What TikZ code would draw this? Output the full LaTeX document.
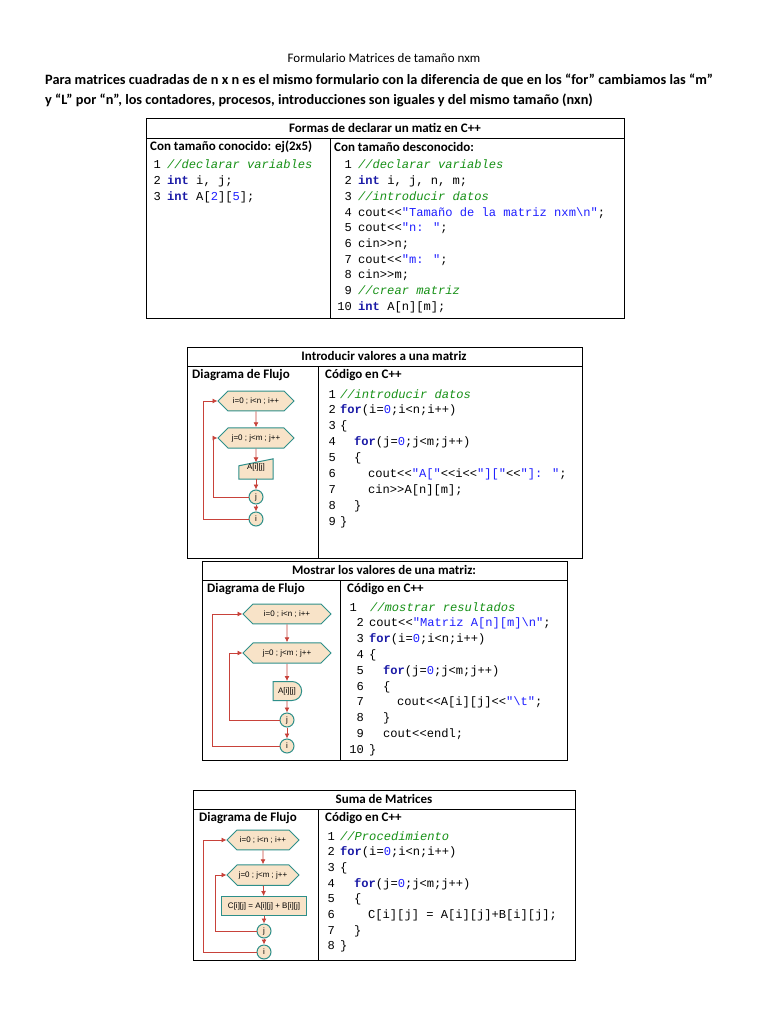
\documentclass[tikz,border=0pt]{standalone}
\usepackage{fontspec}
\setmainfont{Carlito}
\newfontfamily\codefont{Liberation Mono}
\newfontfamily\fcfont{Liberation Sans}
\usetikzlibrary{shapes.geometric,shapes.misc,arrows.meta}
\definecolor{kwc}{HTML}{1A1AA6}
\definecolor{stc}{HTML}{1F1FFF}
\definecolor{cmc}{HTML}{159015}
\definecolor{fcfill}{HTML}{F8E3C8}
\definecolor{fcline}{HTML}{2E8F8A}
\definecolor{fcred}{HTML}{C8423A}
\newcommand{\kw}[1]{\textcolor{kwc}{\bfseries #1}}
\newcommand{\sv}[1]{\textcolor{stc}{#1}}
\newcommand{\cmt}[1]{\textcolor{cmc}{\itshape #1}}
\newcommand{\bsl}{\textbackslash}
\newcommand{\cl}[4]{\node[code] (#1) at (#2,#3) {#4};}
\newcommand{\lnn}[4]{\node[lnum] (#1) at (#2,#3) {#4};}
\tikzset{
 code/.style={anchor=base west,inner sep=0pt,font=\codefont\fontsize{12.1}{12}\selectfont},
 lnum/.style={anchor=base east,inner sep=0pt,font=\codefont\fontsize{12.1}{12}\selectfont},
 hdr/.style={inner sep=0pt,font=\bfseries\fontsize{13}{14}\selectfont},
 tline/.style={draw=black,line width=0.8pt},
 fcfont/.style={font=\fcfont\fontsize{8}{9}\selectfont},
 hexa/.style={chamfered rectangle,chamfered rectangle xsep=9pt,draw=fcline,fill=fcfill,line width=1pt,fcfont,minimum height=19pt,inner xsep=2pt},
 circ/.style={circle,draw=fcline,fill=fcfill,line width=1pt,minimum size=14pt,inner sep=0pt,fcfont},
 box/.style={rectangle,draw=fcline,fill=fcfill,line width=1pt,fcfont,minimum height=19pt},
 arr/.style={draw=fcred,line width=0.8pt,-{Latex[length=5pt,width=5pt]}},
}
\begin{document}
\begin{tikzpicture}[x=1pt,y=-1pt]
\useasboundingbox[fill=white] (0,0) rectangle (768,1024);
\node[inner sep=0pt,font=\fontsize{13}{14}\selectfont] (title) at (384,58) {Formulario Matrices de tamaño nxm};
\node[anchor=west,inner sep=0pt,font=\bfseries\fontsize{14.3}{15}\selectfont] (p1) at (45,80) {Para matrices cuadradas de n x n es el mismo formulario con la diferencia de que en los “for” cambiamos las “m”};
\node[anchor=west,inner sep=0pt,font=\bfseries\fontsize{14.3}{15}\selectfont] (p2) at (45,100) {y “L” por “n”, los contadores, procesos, introducciones son iguales y del mismo tamaño (nxn)};
% ---------- table 1
\draw[tline] (146,118) rectangle (624,318);
\draw[tline] (146,138) -- (624,138);
\draw[tline] (330,138) -- (330,318);
\node[hdr] (h1) at (385,128) {Formas de declarar un matiz en C++};
\node[hdr,anchor=west] (h1a) at (150,147) {Con tamaño conocido: ej(2x5)};
\node[hdr,anchor=west] (h1b) at (334,147) {Con tamaño desconocido:};
\lnn{a1}{161}{169}{1}\cl{b1}{167}{169}{\cmt{//declarar variables}}
\lnn{a2}{161}{184.7}{2}\cl{b2}{167}{184.7}{\kw{int} i, j;}
\lnn{a3}{161}{200.4}{3}\cl{b3}{167}{200.4}{\kw{int} A[\sv{2}][\sv{5}];}
\lnn{c1}{352}{169}{1}\cl{d1}{358}{169}{\cmt{//declarar variables}}
\lnn{c2}{352}{184.7}{2}\cl{d2}{358}{184.7}{\kw{int} i, j, n, m;}
\lnn{c3}{352}{200.4}{3}\cl{d3}{358}{200.4}{\cmt{//introducir datos}}
\lnn{c4}{352}{216.1}{4}\cl{d4}{358}{216.1}{cout<<\sv{"Tamaño de la matriz nxm\bsl n"};}
\lnn{c5}{352}{231.8}{5}\cl{d5}{358}{231.8}{cout<<\sv{"n: "};}
\lnn{c6}{352}{247.5}{6}\cl{d6}{358}{247.5}{cin>>n;}
\lnn{c7}{352}{263.2}{7}\cl{d7}{358}{263.2}{cout<<\sv{"m: "};}
\lnn{c8}{352}{278.9}{8}\cl{d8}{358}{278.9}{cin>>m;}
\lnn{c9}{352}{294.6}{9}\cl{d9}{358}{294.6}{\cmt{//crear matriz}}
\lnn{c10}{352}{310.3}{10}\cl{d10}{358}{310.3}{\kw{int} A[n][m];}
% ---------- table 2
\draw[tline] (187,347) rectangle (582,558);
\draw[tline] (187,366) -- (582,366);
\draw[tline] (318,366) -- (318,558);
\node[hdr] (h2) at (384,356) {Introducir valores a una matriz};
\node[hdr,anchor=west] (h2a) at (192,375) {Diagrama de Flujo};
\node[hdr,anchor=west] (h2b) at (325,375) {Código en C++};
\lnn{e1}{336}{398}{1}\cl{f1}{340}{398}{\cmt{//introducir datos}}
\lnn{e2}{336}{413.9}{2}\cl{f2}{340}{413.9}{\kw{for}(i=\sv{0};i<n;i++)}
\lnn{e3}{336}{429.8}{3}\cl{f3}{340}{429.8}{\{}
\lnn{e4}{336}{445.7}{4}\cl{f4}{354}{445.7}{\kw{for}(j=\sv{0};j<m;j++)}
\lnn{e5}{336}{461.6}{5}\cl{f5}{354}{461.6}{\{}
\lnn{e6}{336}{477.5}{6}\cl{f6}{368}{477.5}{cout<<\sv{"A["}<<i<<\sv{"]["}<<\sv{"]: "};}
\lnn{e7}{336}{493.4}{7}\cl{f7}{368}{493.4}{cin>>A[n][m];}
\lnn{e8}{336}{509.3}{8}\cl{f8}{354}{509.3}{\}}
\lnn{e9}{336}{525.2}{9}\cl{f9}{340}{525.2}{\}}
% flowchart 2
\node[hexa,minimum width=76pt] (i2) at (256,401) {i=0 ; i<n ; i++};
\node[hexa,minimum width=76pt] (j2) at (256,438) {j=0 ; j<m ; j++};
\node[fcfont,minimum width=34pt,minimum height=20pt,inner sep=0pt] (A2) at (256,469) {};
\draw[draw=fcline,fill=fcfill,line width=1pt] (A2.south west) -- (A2.south east) -- (A2.north east) -- ([yshift=-7pt]A2.north west) -- cycle;
\node[fcfont,inner sep=0pt] (A2t) at ([yshift=2pt]A2.center) {A[i][j]};
\node[circ] (cj2) at (256,497) {j};
\node[circ] (ci2) at (256,519) {i};
\draw[arr] (i2) -- (j2);
\draw[arr] (j2) -- ([yshift=-3.5pt]A2.north);
\draw[arr] (A2) -- (cj2);
\draw[arr] (cj2) -- (ci2);
\draw[arr] (cj2.west) -- (213,497) -- (213,438) -- (j2.west);
\draw[arr] (ci2.west) -- (203,519) -- (203,401) -- (i2.west);
% ---------- table 3
\draw[tline] (202,561) rectangle (567,760);
\draw[tline] (202,580) -- (567,580);
\draw[tline] (340,580) -- (340,760);
\node[hdr] (h3) at (384,570) {Mostrar los valores de una matriz:};
\node[hdr,anchor=west] (h3a) at (207,589) {Diagrama de Flujo};
\node[hdr,anchor=west] (h3b) at (347,589) {Código en C++};
\lnn{g1}{357}{611}{1}\cl{k1}{370}{611}{\cmt{//mostrar resultados}}
\lnn{g2}{364}{626.8}{2}\cl{k2}{369}{626.8}{cout<<\sv{"Matriz A[n][m]\bsl n"};}
\lnn{g3}{364}{642.6}{3}\cl{k3}{369}{642.6}{\kw{for}(i=\sv{0};i<n;i++)}
\lnn{g4}{364}{658.4}{4}\cl{k4}{369}{658.4}{\{}
\lnn{g5}{364}{674.2}{5}\cl{k5}{383}{674.2}{\kw{for}(j=\sv{0};j<m;j++)}
\lnn{g6}{364}{690}{6}\cl{k6}{383}{690}{\{}
\lnn{g7}{364}{705.8}{7}\cl{k7}{397}{705.8}{cout<<A[i][j]<<\sv{"\bsl t"};}
\lnn{g8}{364}{721.6}{8}\cl{k8}{383}{721.6}{\}}
\lnn{g9}{364}{737.4}{9}\cl{k9}{383}{737.4}{cout<<endl;}
\lnn{g10}{364}{753.2}{10}\cl{k10}{369}{753.2}{\}}
% flowchart 3
\node[hexa,minimum width=88pt] (i3) at (287,614) {i=0 ; i<n ; i++};
\node[hexa,minimum width=88pt] (j3) at (287,653) {j=0 ; j<m ; j++};
\node[rounded rectangle,rounded rectangle left arc=none,draw=fcline,fill=fcfill,line width=1pt,fcfont,minimum height=19pt,inner xsep=5pt] (A3) at (287,691) {A[i][j]};
\node[circ] (cj3) at (287,720) {j};
\node[circ] (ci3) at (287,746) {i};
\draw[arr] (i3) -- (j3);
\draw[arr] (j3) -- (A3);
\draw[arr] (A3) -- (cj3);
\draw[arr] (cj3) -- (ci3);
\draw[arr] (cj3.west) -- (229,720) -- (229,653) -- (j3.west);
\draw[arr] (ci3.west) -- (212,746) -- (212,614) -- (i3.west);
% ---------- table 4
\draw[tline] (193,790) rectangle (575,960);
\draw[tline] (193,809) -- (575,809);
\draw[tline] (318,809) -- (318,960);
\node[hdr] (h4) at (384,799) {Suma de Matrices};
\node[hdr,anchor=west] (h4a) at (199,818) {Diagrama de Flujo};
\node[hdr,anchor=west] (h4b) at (325,818) {Código en C++};
\lnn{m1}{335}{840}{1}\cl{n1}{340}{840}{\cmt{//Procedimiento}}
\lnn{m2}{335}{855.7}{2}\cl{n2}{340}{855.7}{\kw{for}(i=\sv{0};i<n;i++)}
\lnn{m3}{335}{871.4}{3}\cl{n3}{340}{871.4}{\{}
\lnn{m4}{335}{887.1}{4}\cl{n4}{354}{887.1}{\kw{for}(j=\sv{0};j<m;j++)}
\lnn{m5}{335}{902.8}{5}\cl{n5}{354}{902.8}{\{}
\lnn{m6}{335}{918.5}{6}\cl{n6}{368}{918.5}{C[i][j] = A[i][j]+B[i][j];}
\lnn{m7}{335}{934.2}{7}\cl{n7}{354}{934.2}{\}}
\lnn{m8}{335}{949.9}{8}\cl{n8}{340}{949.9}{\}}
% flowchart 4
\node[hexa,minimum width=72pt] (i4) at (263,840) {i=0 ; i<n ; i++};
\node[hexa,minimum width=72pt] (j4) at (263,875) {j=0 ; j<m ; j++};
\node[box,minimum width=85pt] (C4) at (264,906) {C[i][j] = A[i][j] + B[i][j]};
\node[circ] (cj4) at (264,931) {j};
\node[circ] (ci4) at (264,952) {i};
\draw[arr] (i4) -- (j4);
\draw[arr] (j4) -- (C4);
\draw[arr] (C4) -- (cj4);
\draw[arr] (cj4) -- (ci4);
\draw[arr] (cj4.west) -- (215,931) -- (215,875) -- (j4.west);
\draw[arr] (ci4.west) -- (203,952) -- (203,840) -- (i4.west);
\end{tikzpicture}
\end{document}
